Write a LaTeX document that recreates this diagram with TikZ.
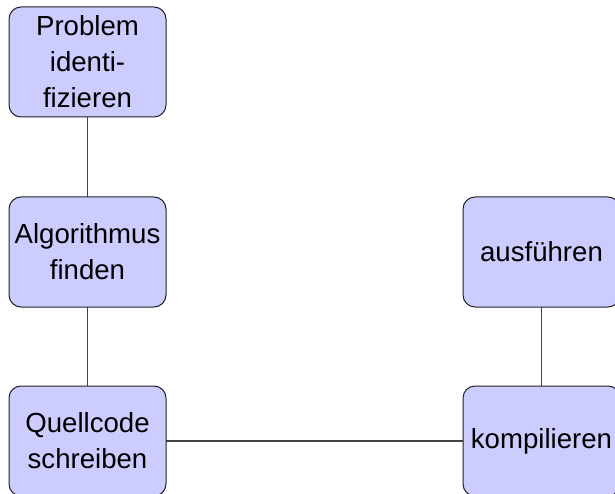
\documentclass[tikz,border=0pt]{standalone}
\usepackage{fontspec}
\setmainfont{Liberation Sans}
\definecolor{boxfill}{HTML}{CCCCFF}
\definecolor{boxline}{HTML}{222222}
\definecolor{linkline}{HTML}{444444}
\begin{document}
\begin{tikzpicture}[x=1pt,y=-1pt,
  stepbox/.style={draw=boxline, fill=boxfill, line width=1pt, rounded corners=12pt,
    minimum width=157pt, minimum height=110pt, inner sep=0pt, align=center,
    font=\fontsize{27.6}{36}\selectfont},
  link/.style={draw=linkline, line width=1.2pt}]
  \useasboundingbox (0,0) rectangle (615,494);
  % connectors first, so the boxes sit on top
  \coordinate (pc) at (87.5,62);
  \coordinate (ac) at (87.5,252);
  \coordinate (qc) at (87.5,441);
  \coordinate (fc) at (541.5,252);
  \coordinate (kc) at (541.5,441);
  \draw[link] (pc) -- (ac);
  \draw[link] (ac) -- (qc);
  \draw[link] (qc) -- (kc);
  \draw[link] (fc) -- (kc);
  % process steps
  \node[stepbox] (problem) at (pc) {Problem\\identi-\\fizieren};
  \node[stepbox] (algo) at (ac) {Algorithmus\\finden};
  \node[stepbox] (quell) at (qc) {Quellcode\\schreiben};
  \node[stepbox] (ausf) at (fc) {ausführen};
  \node[stepbox] (komp) at (kc) {kompilieren};
\end{tikzpicture}
\end{document}
